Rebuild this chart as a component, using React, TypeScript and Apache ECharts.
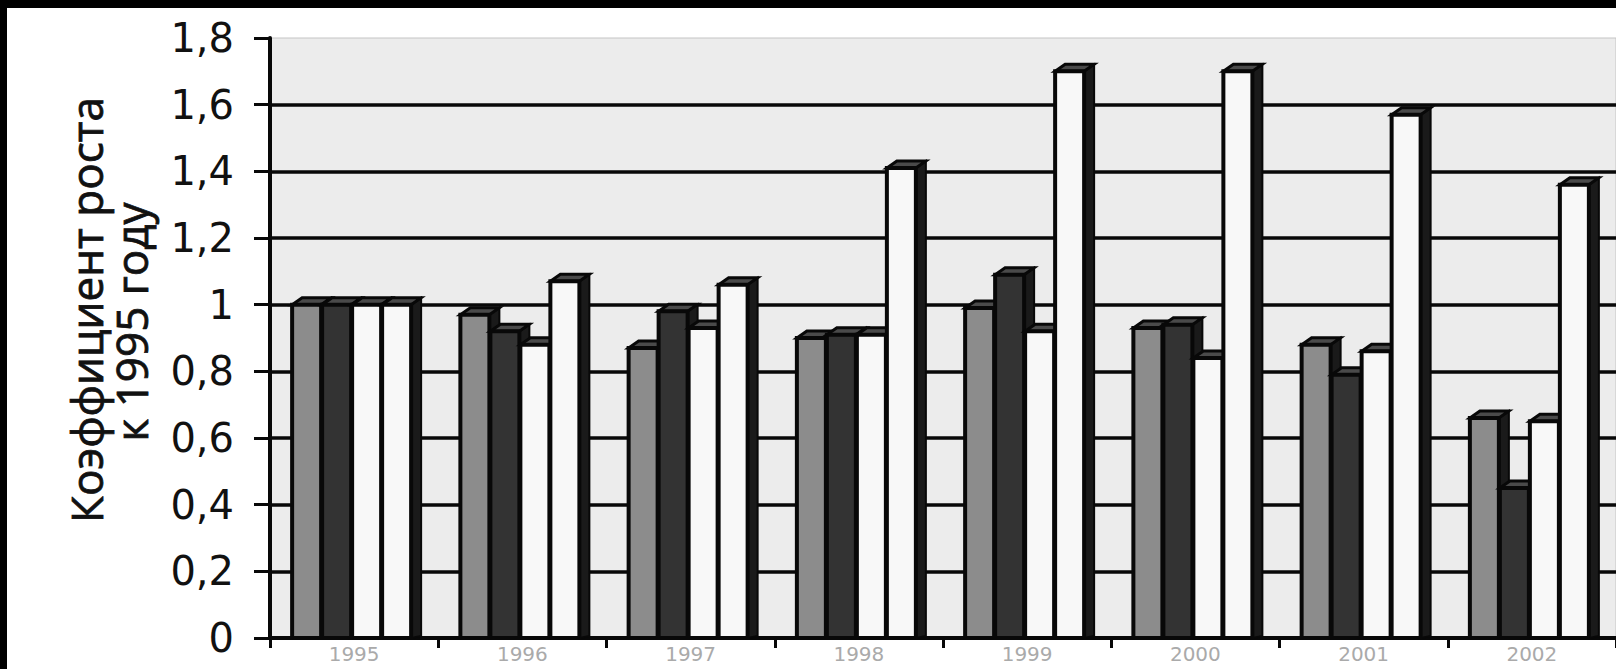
import React, { useEffect, useRef } from "react";
import * as echarts from "echarts";

const years = ["1995", "1996", "1997", "1998", "1999", "2000", "2001", "2002"];
const yTicks = [0, 0.2, 0.4, 0.6, 0.8, 1, 1.2, 1.4, 1.6, 1.8];
const seriesGray = [1.0, 0.97, 0.87, 0.9, 0.99, 0.93, 0.88, 0.66];
const seriesDark = [1.0, 0.92, 0.98, 0.91, 1.09, 0.94, 0.79, 0.45];
const seriesWhite = [1.0, 0.88, 0.93, 0.91, 0.92, 0.84, 0.86, 0.65];
const seriesTall = [1.0, 1.07, 1.06, 1.41, 1.7, 1.7, 1.57, 1.36];
const yName1 = "Коэффициент роста";
const yName2 = "к 1995 году";

const FRONT_COLORS = ["#8c8c8c", "#333333", "#f8f8f8", "#f8f8f8"];

function make3DSeries(values: number[], k: number) {
  return {
    type: "custom",
    z: 5 + k,
    data: values.map((v, i) => [i, v]),
    encode: { x: 0, y: 1 },
    renderItem: (params: any, api: any) => {
      const i = api.value(0);
      const v = api.value(1);
      const base = api.coord([i, 0]);
      const top = api.coord([i, v]);
      const cx = base[0];
      const stride = 30;
      const w = 29;
      const dx = 10;
      const dy = 7;
      const L = cx - 62 + k * stride;
      const R = L + w;
      const T = top[1];
      const B = base[1];
      return {
        type: "group",
        children: [
          {
            type: "polygon",
            shape: { points: [[R, T], [R + dx, T - dy], [R + dx, B - 2], [R, B]] },
            style: { fill: "#1a1a1a", stroke: "#080808", lineWidth: 2 },
          },
          {
            type: "polygon",
            shape: { points: [[L, T], [R, T], [R + dx, T - dy], [L + dx, T - dy]] },
            style: { fill: "#4a4a4a", stroke: "#080808", lineWidth: 3 },
          },
          {
            type: "rect",
            shape: { x: L, y: T, width: w, height: B - T },
            style: { fill: FRONT_COLORS[k], stroke: "#080808", lineWidth: 4 },
          },
        ],
      };
    },
  };
}

export default function App() {
  const ref = useRef<HTMLDivElement>(null);
  useEffect(() => {
    document.body.style.margin = "0";
    const chart = echarts.init(ref.current!, undefined, { renderer: "svg" });
    const fmt = (v: number) => String(Math.round(v * 10) / 10).replace(".", ",");
    chart.setOption({
      animation: false,
      backgroundColor: "#ffffff",
      grid: {
        left: 270,
        right: 0,
        top: 38,
        bottom: 31,
        outerBoundsMode: "none",
        containLabel: false,
        show: true,
        backgroundColor: "#ececec",
        borderColor: "#c4c4c4",
        borderWidth: 1,
      },
      xAxis: {
        type: "category",
        data: years,
        axisLine: { lineStyle: { color: "#080808", width: 4 } },
        axisTick: { show: true, length: 10, lineStyle: { color: "#080808", width: 3 } },
        axisLabel: {
          margin: 6,
          fontSize: 20,
          fontFamily: "DejaVu Sans",
          color: "#aaaaaa",
        },
      },
      yAxis: {
        type: "value",
        min: 0,
        max: 1.8,
        interval: 0.2,
        axisLine: { show: true, lineStyle: { color: "#080808", width: 4 } },
        axisTick: { show: true, length: 16, lineStyle: { color: "#080808", width: 3 } },
        axisLabel: {
          margin: 36,
          fontSize: 40,
          fontFamily: "DejaVu Sans",
          color: "#111",
          formatter: (v: number) => fmt(v),
        },
        splitLine: {
          show: true,
          showMinLine: false,
          showMaxLine: false,
          lineStyle: { color: "#080808", width: 3.5 },
        },
      },
      graphic: [
        { type: "rect", shape: { x: 0, y: 0, width: 1616, height: 8 }, style: { fill: "#000" }, z: 100 },
        { type: "rect", shape: { x: 0, y: 0, width: 7, height: 669 }, style: { fill: "#000" }, z: 100 },
        {
          type: "text",
          x: 86,
          y: 310,
          rotation: Math.PI / 2,
          style: {
            text: yName1,
            fontSize: 44,
            fontFamily: "Open Sans",
            fill: "#111",
            stroke: "#111",
            lineWidth: 0.8,
            align: "center",
            verticalAlign: "middle",
          },
        },
        {
          type: "text",
          x: 131,
          y: 322,
          rotation: Math.PI / 2,
          style: {
            text: yName2,
            fontSize: 44,
            fontFamily: "Open Sans",
            fill: "#111",
            stroke: "#111",
            lineWidth: 0.8,
            align: "center",
            verticalAlign: "middle",
          },
        },
      ],
      series: [
        make3DSeries(seriesGray, 0),
        make3DSeries(seriesDark, 1),
        make3DSeries(seriesWhite, 2),
        make3DSeries(seriesTall, 3),
      ],
    });
    return () => chart.dispose();
  }, []);
  return <div ref={ref} style={{ width: 1616, height: 669 }} />;
}
